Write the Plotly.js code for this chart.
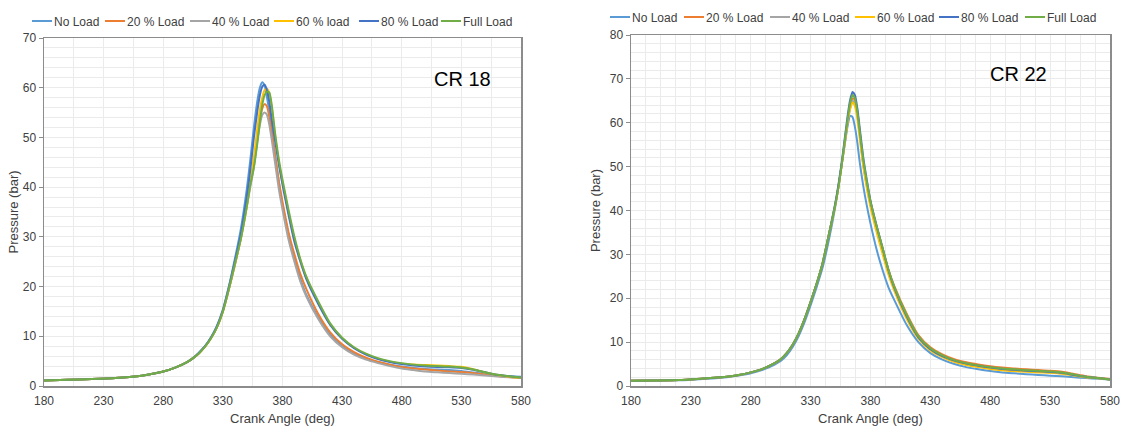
<!DOCTYPE html>
<html>
<head>
<meta charset="utf-8">
<script src="https://cdn.plot.ly/plotly-3.0.1.min.js"></script>
<style>html,body{margin:0;padding:0;background:#fff;}#chart{width:1125px;height:427px;}</style>
</head>
<body>
<div id="chart"></div>
<script>
// Crank angle (deg) sample positions, shared by both charts
const angle = [180,200,220,240,260,270,280,290,300,305,310,315,320,325,330,335,340,345,350,353,356,359,361,363,365,367,369,371,374,377,380,385,390,395,400,410,420,430,440,450,460,470,480,490,500,510,520,530,540,550,560,570,580];

const seriesNames = ['No Load','20 % Load','40 % Load','60 % load','80 % Load','Full Load'];
const seriesNames22 = ['No Load','20 % Load','40 % Load','60 % Load','80 % Load','Full Load'];

// CR 18 pressure (bar)
const cr18_noLoad = [1.1,1.25,1.4,1.6,2.0,2.4,2.9,3.7,4.8,5.6,6.7,8.0,9.8,12.1,15.4,20.0,25.5,31.5,39.5,45.5,52,57.5,60,61.1,60.4,58,55,51.5,46,41,36.5,30.5,25.5,21.5,18.3,13.8,10.3,8.0,6.5,5.5,4.8,4.3,3.9,3.6,3.4,3.3,3.2,3.0,2.7,2.4,2.1,1.95,1.85];
const cr18_load20 = [1.1,1.25,1.4,1.6,2.0,2.4,2.9,3.7,4.8,5.6,6.6,7.9,9.6,11.8,15.0,19.4,24.3,29.8,36.5,40.5,44.5,50,53.5,55.8,56.7,56.2,54,51,46,41,37,31,26.5,22.5,19.5,14.5,10.8,8.4,6.8,5.7,4.9,4.3,3.8,3.5,3.3,3.1,2.9,2.8,2.6,2.3,2.0,1.8,1.6];
const cr18_load40 = [1.1,1.25,1.4,1.6,2.0,2.4,2.9,3.7,4.8,5.6,6.6,7.9,9.6,11.8,15.0,19.4,24.3,29.5,36,40,44,49.5,52.5,54.5,55,54.5,52.5,49.5,44.5,39.5,35.5,29.5,25,21,18,13.5,10.0,7.8,6.3,5.3,4.6,4.0,3.5,3.2,2.9,2.75,2.6,2.45,2.3,2.1,1.9,1.75,1.6];
const cr18_load60 = [1.1,1.25,1.4,1.6,2.0,2.4,2.9,3.7,4.8,5.6,6.6,7.9,9.6,11.8,15.0,19.5,24.5,29.6,36,41,46,52,55.5,58,59.5,59.8,58.8,56,50,45,41,35,29.5,25.3,21.8,16.8,12.4,9.6,7.7,6.4,5.5,4.9,4.5,4.3,4.2,4.1,4.0,3.85,3.4,2.7,2.2,1.85,1.6];
const cr18_load80 = [1.1,1.25,1.4,1.6,2.0,2.4,2.9,3.7,4.8,5.6,6.7,8.0,9.7,12.0,15.2,19.8,25.0,30.5,38,43.5,50,55.5,58.5,60.2,60.6,59.5,57,53.5,49,44.5,40.5,34.5,29,25,21.5,16.5,12.3,9.5,7.6,6.3,5.4,4.8,4.4,4.1,3.9,3.8,3.75,3.6,3.25,2.75,2.25,1.95,1.7];
const cr18_full   = [1.1,1.25,1.4,1.6,2.0,2.4,2.9,3.7,4.8,5.6,6.6,7.9,9.6,11.8,15.0,19.5,24.5,29.5,36,40.5,44,49,53,56.5,58.5,59.2,59,56.5,50.5,45.5,41.5,35.5,30,25.5,22,17,12.6,9.7,7.8,6.5,5.6,5.0,4.6,4.3,4.1,4.0,3.9,3.7,3.3,2.75,2.25,1.95,1.7];

// CR 22 pressure (bar)
const cr22_noLoad = [1.2,1.25,1.3,1.6,2.0,2.4,2.9,3.7,4.9,5.7,7.0,8.9,11.4,14.6,18.4,22.5,27.0,33,40,45,50.5,56,59.5,61.6,61.3,59,55.5,51,45.5,41,37,31.2,26.5,22.5,19.5,14.0,10.0,7.5,6.0,5.0,4.3,3.8,3.4,3.1,2.9,2.7,2.5,2.35,2.2,2.0,1.8,1.65,1.5];
const cr22_load20 = [1.2,1.25,1.35,1.7,2.1,2.5,3.1,3.9,5.2,6.1,7.5,9.4,12.0,15.3,19.2,23.3,28.0,34.2,40.5,45,50.5,56.5,60.5,63.5,65.5,65.2,62.5,58,50.5,46,42,36.5,31.5,26.5,22.7,16.6,11.6,8.8,7.2,6.1,5.4,4.9,4.5,4.2,4.0,3.8,3.65,3.5,3.25,2.75,2.25,1.9,1.6];
const cr22_load40 = [1.2,1.25,1.35,1.7,2.1,2.5,3.1,3.9,5.2,6.1,7.5,9.4,12.0,15.3,19.2,23.3,28.0,34.2,40.5,45,50.5,56.5,60.3,63.3,65.0,64.5,61.8,57.3,50.5,45.5,41.3,35.7,30.7,25.8,22.0,15.8,11.1,8.3,6.8,5.7,5.0,4.5,4.1,3.8,3.6,3.4,3.25,3.1,2.9,2.5,2.1,1.8,1.5];
const cr22_load60 = [1.2,1.25,1.35,1.7,2.1,2.5,3.1,3.9,5.2,6.1,7.5,9.4,12.0,15.3,19.2,23.3,28.0,34.2,40.5,45,50.5,56.5,60.5,63.2,64.6,63.8,61,56.5,50,45,40.8,35.2,30.2,25.4,21.6,15.4,10.8,8.1,6.6,5.5,4.8,4.3,3.9,3.6,3.4,3.25,3.1,3.0,2.8,2.4,2.0,1.75,1.5];
const cr22_load80 = [1.2,1.25,1.35,1.7,2.1,2.5,3.1,3.9,5.2,6.1,7.5,9.4,12.0,15.3,19.2,23.3,28.0,34.2,40.8,45.5,51,57.5,61.8,65.2,67.0,66.3,63.3,58.8,52,46.8,42.2,36.6,31.5,26.4,22.3,16.0,11.1,8.4,6.8,5.8,5.1,4.6,4.2,3.9,3.7,3.5,3.35,3.2,3.0,2.5,2.1,1.8,1.5];
const cr22_full   = [1.2,1.25,1.35,1.7,2.1,2.5,3.1,3.9,5.2,6.1,7.5,9.4,12.0,15.3,19.2,23.3,28.0,34.2,40.5,45,50.5,57,61,64.5,66.3,65.5,62.5,58,51.5,46.5,42,36.5,31.5,26.5,22.5,16.3,11.3,8.6,7.0,5.9,5.2,4.7,4.3,4.0,3.8,3.6,3.45,3.3,3.1,2.6,2.1,1.8,1.5];

const xTicks = [180,230,280,330,380,430,480,530,580];
const colors = ['#5B9BD5','#ED7D31','#A5A5A5','#FFC000','#4472C4','#70AD47'];

const cr18 = [cr18_noLoad, cr18_load20, cr18_load40, cr18_load60, cr18_load80, cr18_full];
const cr22 = [cr22_noLoad, cr22_load20, cr22_load40, cr22_load60, cr22_load80, cr22_full];

const font = 'Liberation Sans, Arial, sans-serif';
const gridC = '#ebebeb';

// legend item placement (px from left) for each chart
const legX18 = [14, 87, 172, 256, 341, 423];
const legX22 = [592, 666, 752, 837, 921, 1007];

const traces = [];
const layoutLegends = {};
function addLegend(idx, xpx, ypx) {
  const key = idx === 1 ? 'legend' : 'legend' + idx;
  layoutLegends[key] = {
    orientation: 'h', x: xpx / 1125, xanchor: 'left', y: 1 - ypx / 427, yanchor: 'middle',
    font: {family: font, size: 12, color: '#404040'}, bgcolor: 'rgba(0,0,0,0)',
    itemwidth: 30, borderwidth: 0
  };
  return key;
}
cr18.forEach((ys, i) => {
  const lg = addLegend(i + 1, legX18[i], 21);
  traces.push({
    x: angle, y: ys, name: seriesNames[i], type: 'scatter', mode: 'lines',
    line: {color: colors[i], width: 2, shape: 'spline', smoothing: 0.6},
    xaxis: 'x', yaxis: 'y', legend: lg
  });
});
cr22.forEach((ys, i) => {
  const lg = addLegend(i + 7, legX22[i], 17);
  traces.push({
    x: angle, y: ys, name: seriesNames22[i], type: 'scatter', mode: 'lines',
    line: {color: colors[i], width: 2, shape: 'spline', smoothing: 0.6},
    xaxis: 'x2', yaxis: 'y2', legend: lg
  });
});

function xAx(domain, minorStep, anchor) {
  return {
    domain: domain, anchor: anchor, range: [180, 580], tickvals: xTicks,
    showline: true, linecolor: '#8c8c8c', linewidth: 1.5, mirror: true,
    showgrid: true, gridcolor: gridC, gridwidth: 1, zeroline: false,
    ticks: '', ticklabelstandoff: 3, tickfont: {family: font, size: 12, color: '#404040'},
    minor: {dtick: minorStep, tick0: 180, showgrid: true, gridcolor: gridC, gridwidth: 1},
    title: {text: 'Crank Angle (deg)', font: {family: font, size: 13, color: '#404040'}, standoff: 7}
  };
}
function yAx(domain, top, anchor, standoff) {
  return {
    domain: domain, anchor: anchor, range: [0, top], dtick: 10,
    showline: true, linecolor: '#8c8c8c', linewidth: 1.5, mirror: true,
    showgrid: true, gridcolor: gridC, gridwidth: 1, zeroline: false,
    ticks: 'outside', ticklen: 4, tickcolor: '#8c8c8c',
    tickfont: {family: font, size: 12, color: '#404040'},
    minor: {dtick: 2, showgrid: true, gridcolor: gridC, gridwidth: 1},
    title: {text: 'Pressure (bar)', font: {family: font, size: 13, color: '#404040'}, standoff: standoff}
  };
}

const layout = Object.assign({
  width: 1125, height: 427,
  margin: {l: 0, r: 0, t: 0, b: 0},
  paper_bgcolor: '#ffffff', plot_bgcolor: '#ffffff',
  showlegend: true,
  xaxis: xAx([44/1125, 521/1125], 25, 'y'),
  yaxis: yAx([41/427, 389/427], 70, 'x', 1),
  xaxis2: xAx([631/1125, 1110/1125], 12.5, 'y2'),
  yaxis2: yAx([41/427, 392/427], 80, 'x2', 6),
  annotations: [
    {text: 'CR 18', xref: 'paper', yref: 'paper', x: 462/1125, y: 1 - 79/427, xanchor: 'center', yanchor: 'middle',
     showarrow: false, font: {family: font, size: 20, color: '#000000'}},
    {text: 'CR 22', xref: 'paper', yref: 'paper', x: 1018/1125, y: 1 - 74/427, xanchor: 'center', yanchor: 'middle',
     showarrow: false, font: {family: font, size: 20, color: '#000000'}}
  ]
}, layoutLegends);

Plotly.newPlot('chart', traces, layout, {displayModeBar: false, staticPlot: true}).then(gd => {
  // shorten legend line swatches so they sit just before the label, as in the original
  gd.querySelectorAll('.legendlines path').forEach(p => p.setAttribute('d', 'M18,0h20'));
});
</script>
</body>
</html>
